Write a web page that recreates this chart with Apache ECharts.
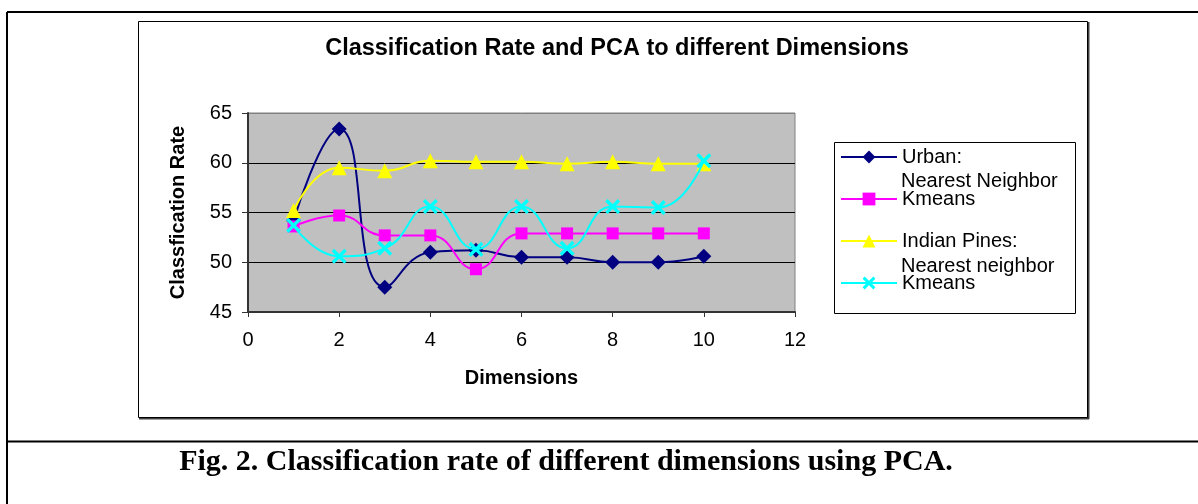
<!DOCTYPE html>
<html>
<head>
<meta charset="utf-8">
<script src="https://cdn.jsdelivr.net/npm/echarts@6/dist/echarts.min.js"></script>
<style>
html,body{margin:0;padding:0;background:#fff;}
#chart{width:1198px;height:504px;}
</style>
</head>
<body>
<div id="chart"></div>
<script>
var dimensions = [1, 2, 3, 4, 5, 6, 7, 8, 9, 10];
var urbanNearest = [54.2, 63.4, 47.5, 51.0, 51.2, 50.5, 50.5, 50.0, 50.0, 50.6];
var urbanKmeans = [53.6, 54.7, 52.7, 52.7, 49.3, 52.9, 52.9, 52.9, 52.9, 52.9];
var pinesNearest = [55.2, 59.5, 59.2, 60.2, 60.1, 60.1, 59.9, 60.1, 59.9, 59.9];
var pinesKmeans = [53.7, 50.6, 51.4, 55.6, 51.3, 55.6, 51.4, 55.6, 55.5, 60.2];
var xTicks = [0, 2, 4, 6, 8, 10, 12];
var yTicks = [45, 50, 55, 60, 65];
var seriesNames = ['Urban: Nearest Neighbor', 'Urban: Kmeans', 'Indian Pines: Nearest neighbor', 'Indian Pines: Kmeans'];
var legendLabels = ['Urban:', 'Kmeans', 'Indian Pines:', 'Kmeans'];

function pairs(vals) { return dimensions.map(function (d, i) { return [d, vals[i]]; }); }

var FONT = 'Liberation Sans, Arial, sans-serif';
var xMark = 'path://M0,1.6 L1.6,0 L10,8.4 L8.4,10 Z M8.4,0 L10,1.6 L1.6,10 L0,8.4 Z';

var chart = echarts.init(document.getElementById('chart'), null, {renderer: 'canvas'});

function mkSeries(idx, vals, color, symbol, size) {
  return {
    name: seriesNames[idx], type: 'line', smooth: 0.5, data: pairs(vals),
    symbol: symbol, symbolSize: size, showSymbol: true,
    lineStyle: {color: color, width: 2},
    itemStyle: {color: color, borderWidth: 0},
    emphasis: {disabled: true}, z: 3 + idx
  };
}

var option = {
  animation: false,
  backgroundColor: '#ffffff',
  textStyle: {fontFamily: FONT},
  title: {
    text: 'Classification Rate and PCA to different Dimensions',
    left: 612, top: 32, textAlign: 'center',
    textStyle: {fontFamily: FONT, fontWeight: 'bold', fontSize: 23.5, color: '#000'}
  },
  legend: {
    orient: 'vertical', left: 840, top: 147, padding: 0,
    itemWidth: 56, itemHeight: 16, itemGap: 22,
    data: seriesNames,
    formatter: function (n) { return legendLabels[seriesNames.indexOf(n)]; },
    textStyle: {fontFamily: FONT, fontSize: 20, color: '#000'},
    selectedMode: false
  },
  grid: {left: 248, right: 403, top: 113, bottom: 192, show: true,
    backgroundColor: '#C0C0C0', borderColor: '#808080', borderWidth: 1},
  xAxis: {
    type: 'value', min: xTicks[0], max: xTicks[xTicks.length - 1], interval: 2,
    name: 'Dimensions', nameLocation: 'middle', nameGap: 56,
    nameTextStyle: {fontFamily: FONT, fontWeight: 'bold', fontSize: 20, color: '#000'},
    axisLine: {lineStyle: {color: '#333', width: 2}},
    axisTick: {show: true, inside: false, length: 5, lineStyle: {color: '#333'}},
    axisLabel: {fontFamily: FONT, fontSize: 20, color: '#000', margin: 18},
    splitLine: {show: false}
  },
  yAxis: {
    type: 'value', min: yTicks[0], max: yTicks[yTicks.length - 1], interval: 5,
    name: 'Classfication Rate', nameLocation: 'middle', nameGap: 60,
    nameTextStyle: {fontFamily: FONT, fontWeight: 'bold', fontSize: 20, color: '#000'},
    axisLine: {show: true, lineStyle: {color: '#333', width: 2}},
    axisTick: {show: true, inside: false, length: 6, lineStyle: {color: '#333'}},
    axisLabel: {fontFamily: FONT, fontSize: 20, color: '#000', margin: 16},
    splitLine: {show: true, lineStyle: {color: ['#333', '#000', '#000', '#000', '#808080'], width: 1}}
  },
  graphic: [
    {type: 'line', shape: {x1: 7, y1: 12, x2: 1198, y2: 12}, style: {stroke: '#000', lineWidth: 2}, z: -10},
    {type: 'line', shape: {x1: 7, y1: 12, x2: 7, y2: 504}, style: {stroke: '#000', lineWidth: 2}, z: -10},
    {type: 'line', shape: {x1: 7, y1: 441.5, x2: 1198, y2: 441.5}, style: {stroke: '#000', lineWidth: 2}, z: -10},
    {type: 'line', shape: {x1: 1088.5, y1: 22, x2: 1088.5, y2: 419}, style: {stroke: '#404040', lineWidth: 2}, z: -10},
    {type: 'line', shape: {x1: 139, y1: 418.5, x2: 1089, y2: 418.5}, style: {stroke: '#404040', lineWidth: 2}, z: -10},
    {type: 'rect', shape: {x: 138.5, y: 21.5, width: 949, height: 396}, style: {fill: null, stroke: '#000', lineWidth: 1}, z: -9},
    {type: 'rect', shape: {x: 834.5, y: 142.5, width: 241, height: 171}, style: {fill: '#fff', stroke: '#000', lineWidth: 1}, z: -8},
    {type: 'text', x: 901, y: 181, style: {text: 'Nearest Neighbor', font: '20px ' + FONT, fill: '#000', textVerticalAlign: 'middle'}, z: 10},
    {type: 'text', x: 901, y: 266, style: {text: 'Nearest neighbor', font: '20px ' + FONT, fill: '#000', textVerticalAlign: 'middle'}, z: 10},
    {type: 'text', x: 566, y: 462, style: {text: 'Fig. 2. Classification rate of different dimensions using PCA.', font: 'bold 30px Liberation Serif, Times New Roman, serif', fill: '#000', textAlign: 'center', textVerticalAlign: 'middle'}, z: 10}
  ],
  series: [
    mkSeries(0, urbanNearest, '#000080', 'diamond', 15),
    mkSeries(1, urbanKmeans, '#FF00FF', 'rect', 12),
    mkSeries(2, pinesNearest, '#FFFF00', 'triangle', 15),
    mkSeries(3, pinesKmeans, '#00FFFF', xMark, 15)
  ]
};
chart.setOption(option);
</script>
</body>
</html>
